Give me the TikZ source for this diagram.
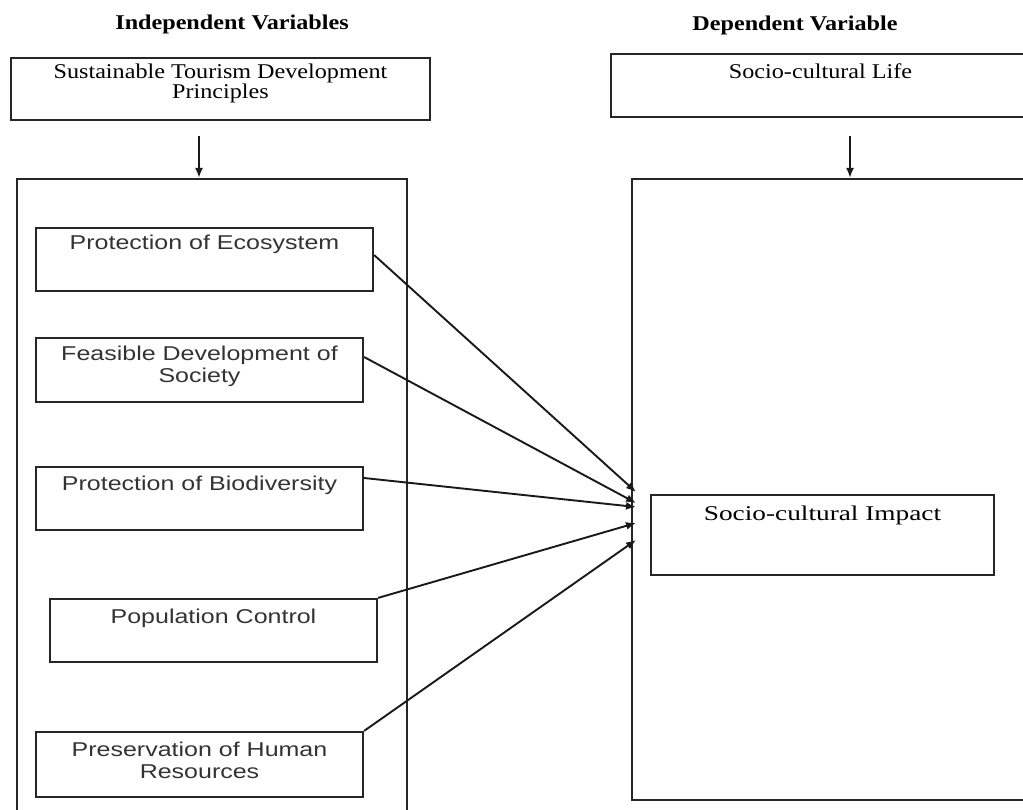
\documentclass[tikz,border=0pt]{standalone}
\usepackage{fontspec}
\setmainfont{Liberation Serif}[FakeStretch=1.15]
\newfontfamily\boxfont{Liberation Sans}[FakeStretch=1.25]
\newfontfamily\impactfont{Liberation Serif}[FakeStretch=1.3]
\usetikzlibrary{arrows.meta}
\usetikzlibrary{positioning}
\tikzset{
    varBox/.style 2 args={
    ,   rectangle
    ,   draw=black!85
    ,   line width=2.2pt
    ,   minimum width=#1
    ,   minimum height=#2
    ,   inner sep=0pt
    },
    headText/.style={
    ,   font=\fontsize{21}{22}\selectfont\bfseries
    ,   inner sep=0pt
    },
    serifText/.style={
    ,   font=\fontsize{21}{20}\selectfont
    ,   align=center
    ,   inner sep=0pt
    },
    sansText/.style={
    ,   font=\boxfont\fontsize{20}{22}\selectfont
    ,   align=center
    ,   inner sep=0pt
    ,   text=black!80
    },
    relArrow/.style={
    ,   line width=1.9pt
    ,   draw=black!90
    ,   -{Latex[length=10pt,width=8pt]}
    },
}
\begin{document}
\begin{tikzpicture}[x=1pt, y=-1pt]
\path[use as bounding box, clip] (0,0) rectangle (1023,809);

% column heads
\node[headText] (indepHead) at (232,24) {Independent Variables};
\node[headText] (depHead) at (795,25) {Dependent Variable};

% top boxes
\node[varBox={419pt}{62pt}] (tourism) at (220.5,89) {};
\node[serifText, below=7pt of tourism.north] (tourismTxt) {Sustainable Tourism Development\\Principles};
\node[varBox={419pt}{63pt}] (life) at (820.5,85.5) {};
\node[serifText, below=11pt of life.north] (lifeTxt) {Socio-cultural Life};

% big frames
\node[varBox={390pt}{640pt}] (indepBox) at (212,499) {};
\node[varBox={400pt}{621pt}] (depBox) at (832,489.5) {};

\coordinate (a1) at (199,136);
\coordinate (a2) at (850,136);
\draw[relArrow] (a1) -- (a1 |- indepBox.north);
\draw[relArrow] (a2) -- (a2 |- depBox.north);

% principles
\node[varBox={337pt}{63pt}] (eco) at (204.5,259.5) {};
\node[sansText, below=8pt of eco.north] {Protection of Ecosystem};
\node[varBox={327pt}{64pt}] (feas) at (199.5,370) {};
\node[sansText, below=9pt of feas.north] {Feasible Development of\\Society};
\node[varBox={327pt}{63pt}] (bio) at (199.5,498.5) {};
\node[sansText, below=10pt of bio.north] {Protection of Biodiversity};
\node[varBox={327pt}{63pt}] (pop) at (213.5,630.5) {};
\node[sansText, below=11pt of pop.north] {Population Control};
\node[varBox={327pt}{65pt}] (pres) at (199.5,764.5) {};
\node[sansText, below=11pt of pres.north] {Preservation of Human\\Resources};

% impact
\node[varBox={343pt}{80pt}] (impact) at (822.5,535) {};
\node[serifText, font=\impactfont\fontsize{21}{20}\selectfont, below=12pt of impact.north] {Socio-cultural Impact};

\coordinate (t1) at (636,492);
\coordinate (t2) at (636,503);
\coordinate (t3) at (636,507);
\coordinate (t4) at (636,523);
\coordinate (t5) at (636,540);
\draw[relArrow] ([yshift=4.5pt]eco.east) -- (t1);
\draw[relArrow] ([yshift=13pt]feas.east) -- (t2);
\draw[relArrow] ([yshift=20.5pt]bio.east) -- (t3);
\draw[relArrow] (pop.north east) -- (t4);
\draw[relArrow] (pres.north east) -- (t5);
\end{tikzpicture}
\end{document}
